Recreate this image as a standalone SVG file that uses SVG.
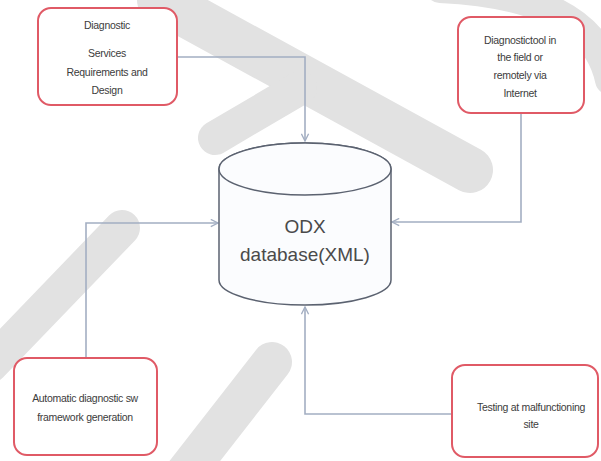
<svg xmlns="http://www.w3.org/2000/svg" width="601" height="461" viewBox="0 0 601 461">
<defs>
<style>
.box{fill:#ffffff;stroke:#e05a66;stroke-width:2}
.lbl{font-family:"Liberation Sans",Arial,sans-serif;font-size:10.5px;fill:#3c3c3c;text-anchor:middle;letter-spacing:-0.3px}
.big{font-family:"Liberation Sans",Arial,sans-serif;font-size:19px;fill:#4a4a4a;text-anchor:middle}
.conn{fill:none;stroke:#a3aec2;stroke-width:1.6}
.cyl{fill:#fbfcfe;stroke:#5b6270;stroke-width:1.5}
.wm{fill:none;stroke:#e2e2e2;stroke-linecap:round}
</style>
<marker id="arr" viewBox="0 0 10 10" refX="9" refY="5" markerWidth="9" markerHeight="9" markerUnits="userSpaceOnUse" orient="auto">
<path d="M1,1 L9,5 L1,9" fill="none" stroke="#a3aec2" stroke-width="1.5"/>
</marker>
</defs>
<rect width="601" height="461" fill="#ffffff"/>
<g id="watermark">
<path class="wm" stroke-width="46" d="M160,0 L470,170"/>
<path class="wm" stroke-width="34" d="M215,138 L300,88"/>
<path class="wm" stroke-width="40" d="M180,480 L272,362"/>
<path class="wm" stroke-width="36" d="M122,228 L-10,365"/>
<path class="wm" stroke-width="30" d="M440,-12 Q592,-5 610,80"/>
</g>
<g id="connectors">
<path class="conn" d="M177,57 H305 V141" marker-end="url(#arr)"/>
<path class="conn" d="M521,113 V222 H392" marker-end="url(#arr)"/>
<path class="conn" d="M86,358 V223 H218" marker-end="url(#arr)"/>
<path class="conn" d="M452,414 H305 V307" marker-end="url(#arr)"/>
</g>
<g id="n1">
<rect class="box" x="38" y="8" width="139" height="97" rx="13"/>
<text class="lbl" x="107" y="29">Diagnostic</text>
<text class="lbl" x="107" y="57">Services</text>
<text class="lbl" x="107" y="76">Requirements and</text>
<text class="lbl" x="107" y="94">Design</text>
</g>
<g id="n2">
<rect class="box" x="458" y="17" width="126" height="96" rx="13"/>
<text class="lbl" x="520" y="44">Diagnostictool in</text>
<text class="lbl" x="520" y="61">the field or</text>
<text class="lbl" x="520" y="79">remotely via</text>
<text class="lbl" x="520" y="97">Internet</text>
</g>
<g id="db">
<path class="cyl" d="M219,169 V280 A86,25 0 0 0 391,280 V169 A86,26 0 0 0 219,169 Z"/>
<ellipse class="cyl" cx="305" cy="169" rx="86" ry="26"/>
<text class="big" x="305" y="233">ODX</text>
<text class="big" x="305" y="261">database(XML)</text>
</g>
<g id="n3">
<rect class="box" x="14" y="358" width="143" height="97" rx="13"/>
<text class="lbl" x="85" y="402">Automatic diagnostic sw</text>
<text class="lbl" x="85" y="421">framework generation</text>
</g>
<g id="n4">
<rect class="box" x="452" y="365" width="146" height="92" rx="13"/>
<text class="lbl" x="531" y="411">Testing at malfunctioning</text>
<text class="lbl" x="531" y="428">site</text>
</g>
</svg>
